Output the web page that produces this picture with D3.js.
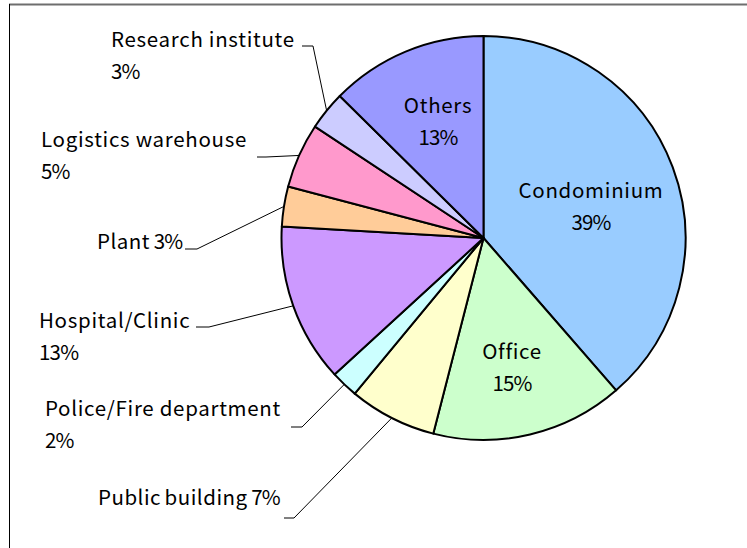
<!DOCTYPE html>
<html>
<head>
<meta charset="utf-8">
<script src="https://cdn.jsdelivr.net/npm/d3@7"></script>
<style>
  html, body { margin: 0; padding: 0; background: #fff; }
  svg { display: block; }
  text { font-family: "Noto Sans CJK JP", "Noto Sans", sans-serif; font-size: 20.5px; letter-spacing: 0.7px; fill: #000; }
  text.single { word-spacing: -1.5px; letter-spacing: 0.5px; }
  tspan.pct { letter-spacing: -0.8px; }
</style>
</head>
<body>
<svg id="chart" width="747" height="548"></svg>
<script>
// ---- data ----
const categories = ["Condominium", "Office", "Public building", "Police/Fire department",
  "Hospital/Clinic", "Plant", "Logistics warehouse", "Research institute", "Others"];
const values = [38.6, 15.4, 7.0, 2.2, 12.7, 3.2, 5.2, 3.1, 12.6];
const colors = ["#99CCFF", "#CCFFCC", "#FFFFCC", "#CCFFFF", "#CC99FF", "#FFCC99", "#FF99CC", "#CCCCFF", "#9999FF"];

// ---- layout (positions only) ----
const cx = 483.5, cy = 238, R = 202;
const labelLayout = {
  "Condominium":            { inside: true, x: 591, y: 198, lines: 2 },
  "Office":                 { inside: true, x: 512, y: 359, lines: 2 },
  "Others":                 { inside: true, x: 438, y: 113, lines: 2 },
  "Research institute":     { x: 111, y: 47,  lines: 2, elbow: [302, 313, 46] },
  "Logistics warehouse":    { x: 41,  y: 147, lines: 2, elbow: [257, 266, 157] },
  "Plant":                  { x: 97,  y: 249, lines: 1, elbow: [185, 197, 249] },
  "Hospital/Clinic":        { x: 39,  y: 328, lines: 2, elbow: [196, 209, 327] },
  "Police/Fire department": { x: 45,  y: 416, lines: 2, elbow: [291, 302, 427] },
  "Public building":        { x: 98,  y: 505, lines: 1, elbow: [284, 294, 518] }
};
const lineGap = 32;

const svg = d3.select("#chart");

// frame
svg.append("line").attr("x1", 9).attr("x2", 747).attr("y1", 4.5).attr("y2", 4.5)
  .attr("stroke", "#6e6e6e").attr("stroke-width", 2);
svg.append("line").attr("x1", 9.5).attr("x2", 9.5).attr("y1", 4).attr("y2", 548)
  .attr("stroke", "#000").attr("stroke-width", 1);

const data = categories.map((c, i) => ({ name: c, value: values[i], color: colors[i] }));
const pie = d3.pie().sort(null).value(d => d.value).startAngle(0).endAngle(2 * Math.PI);
const arcs = pie(data);
const arc = d3.arc().innerRadius(0).outerRadius(R);

const g = svg.append("g").attr("transform", `translate(${cx},${cy})`);
g.selectAll("path.slice").data(arcs).join("path")
  .attr("class", "slice")
  .attr("d", arc)
  .attr("fill", d => d.data.color)
  .attr("stroke", "#000")
  .attr("stroke-width", 2)
  .attr("stroke-linejoin", "round");

// labels
arcs.forEach(a => {
  const name = a.data.name;
  const L = labelLayout[name];
  const pct = Math.round(a.data.value) + "%";
  const anchor = L.inside ? "middle" : "start";
  if (L.lines === 2) {
    svg.append("text").attr("x", L.x).attr("y", L.y).attr("text-anchor", anchor).text(name);
    svg.append("text").attr("x", L.x).attr("y", L.y + lineGap).attr("text-anchor", anchor)
      .append("tspan").attr("class", "pct").text(pct);
  } else {
    const t = svg.append("text").attr("class", "single").attr("x", L.x).attr("y", L.y).attr("text-anchor", anchor);
    t.append("tspan").text(name + " ");
    t.append("tspan").attr("class", "pct").text(pct);
  }
  if (!L.inside) {
    const mid = (a.startAngle + a.endAngle) / 2;
    const px = cx + R * Math.sin(mid), py = cy - R * Math.cos(mid);
    const [ex0, ex1, ey] = L.elbow;
    svg.append("path")
      .attr("d", `M${ex0},${ey}L${ex1},${ey}L${px},${py}`)
      .attr("fill", "none").attr("stroke", "#000").attr("stroke-width", 1);
  }
});
</script>
</body>
</html>
